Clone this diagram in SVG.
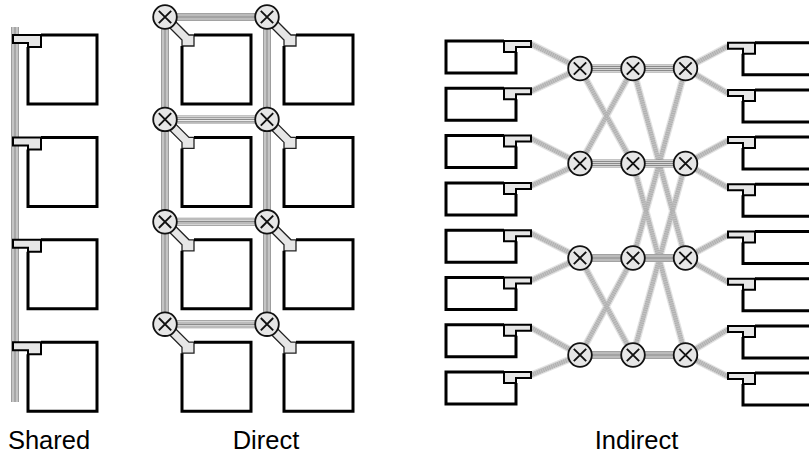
<svg xmlns="http://www.w3.org/2000/svg" xmlns:xlink="http://www.w3.org/1999/xlink" width="809" height="456" viewBox="0 0 809 456">
<style>
.bx{fill:none;stroke:#000;stroke-width:3;stroke-linejoin:miter}
.tab{fill:#e6e6e6;stroke:#000;stroke-width:2;stroke-linejoin:miter}
.band{fill:#e6e6e6;stroke:#222;stroke-width:1.3}
.swc{fill:#e6e6e6;stroke:#111;stroke-width:1.8}
.swx{stroke:#111;stroke-width:1.9;fill:none}
.b1{fill:none;stroke:#8a8a8a;stroke-width:8}
.b2{fill:none;stroke:#ececec;stroke-width:6.4}
.b3{fill:none;stroke:#8a8a8a;stroke-width:4.8}
.b4{fill:none;stroke:#ececec;stroke-width:3.2}
.b5{fill:none;stroke:#8a8a8a;stroke-width:1.4}
.l1{fill:none;stroke:#e2e2e2;stroke-width:7}
.l2{fill:none;stroke:#c4c4c4;stroke-width:4.5}
.l3{fill:none;stroke:#9a9a9a;stroke-width:4.5;stroke-dasharray:1 1.2;opacity:.5}
.lbl{font-family:"Liberation Sans",Arial,sans-serif;font-size:25.5px;fill:#000;text-anchor:middle}
</style>
<defs>
<g id="sw"><circle r="11.8" class="swc"/><path class="swx" d="M-6.2,-6.2 L6.2,6.2 M-6.2,6.2 L6.2,-6.2"/></g>
<g id="sbox"><polygon class="tab" points="-15,0 13,0 13,12 0,12 0,8 -15,8"/><path class="bx" d="M13,0 H69 V69 H0 V12"/></g>
<g id="dbox"><polygon class="band" points="-14,-21 7,0 12,0 12,11 0,11 0,5 -20,-15"/><path class="bx" d="M12,0 H69 V69 H0 V11"/></g>
<g id="lbox"><polygon class="tab" points="58,0 85,0 85,6 70,6 70,11 58,11"/><path class="bx" d="M58,0 H0 V32 H70 V11"/></g>
<path id="sbus" d="M15,27 V402"/>
<path id="dbus" d="M165,17 V324.2 M267,17 V324.2 M165,17 H267 M165,119.4 H267 M165,221.8 H267 M165,324.2 H267"/>
<path id="ibus" d="M580,68.5 H685.5 M580,163.5 H685.5 M580,258 H685.5 M580,355 H685.5"/>
<path id="ilink" d="M531,44 L580,68.5 M531,91.3 L580,68.5 M531,138.6 L580,163.5 M531,185.9 L580,163.5 M531,233.2 L580,258 M531,280.5 L580,258 M531,327.8 L580,355 M531,375.1 L580,355 M685.5,68.5 L728,46.2 M685.5,68.5 L728,93.4 M685.5,163.5 L728,140.6 M685.5,163.5 L728,187.8 M685.5,258 L728,235 M685.5,258 L728,282.2 M685.5,355 L728,329.4 M685.5,355 L728,376.6 M580,68.5 L633,163.5 M580,163.5 L633,68.5 M580,258 L633,355 M580,355 L633,258 M633,68.5 L685.5,258 M685.5,68.5 L633,258 M633,163.5 L685.5,355 M685.5,163.5 L633,355"/>
</defs>
<rect width="809" height="456" fill="#fff"/>
<g id="connectors">
<use xlink:href="#sbus" class="b1"/><use xlink:href="#sbus" class="b2"/><use xlink:href="#sbus" class="b3"/><use xlink:href="#sbus" class="b4"/><use xlink:href="#sbus" class="b5"/>
<use xlink:href="#dbus" class="b1"/><use xlink:href="#dbus" class="b2"/><use xlink:href="#dbus" class="b3"/><use xlink:href="#dbus" class="b4"/><use xlink:href="#dbus" class="b5"/>
<use xlink:href="#ilink" class="l1"/><use xlink:href="#ilink" class="l2"/><use xlink:href="#ilink" class="l3"/>
<use xlink:href="#ibus" class="b1"/><use xlink:href="#ibus" class="b2"/><use xlink:href="#ibus" class="b3"/><use xlink:href="#ibus" class="b4"/><use xlink:href="#ibus" class="b5"/>
</g>
<g id="shared-1"><use xlink:href="#sbox" x="28" y="35"/></g>
<g id="shared-2"><use xlink:href="#sbox" x="28" y="137.4"/></g>
<g id="shared-3"><use xlink:href="#sbox" x="28" y="239.8"/></g>
<g id="shared-4"><use xlink:href="#sbox" x="28" y="342.2"/></g>
<g id="direct-1-1"><use xlink:href="#dbox" x="182" y="35"/><use xlink:href="#sw" x="165" y="17"/></g>
<g id="direct-1-2"><use xlink:href="#dbox" x="284" y="35"/><use xlink:href="#sw" x="267" y="17"/></g>
<g id="direct-2-1"><use xlink:href="#dbox" x="182" y="137.4"/><use xlink:href="#sw" x="165" y="119.4"/></g>
<g id="direct-2-2"><use xlink:href="#dbox" x="284" y="137.4"/><use xlink:href="#sw" x="267" y="119.4"/></g>
<g id="direct-3-1"><use xlink:href="#dbox" x="182" y="239.8"/><use xlink:href="#sw" x="165" y="221.8"/></g>
<g id="direct-3-2"><use xlink:href="#dbox" x="284" y="239.8"/><use xlink:href="#sw" x="267" y="221.8"/></g>
<g id="direct-4-1"><use xlink:href="#dbox" x="182" y="342.2"/><use xlink:href="#sw" x="165" y="324.2"/></g>
<g id="direct-4-2"><use xlink:href="#dbox" x="284" y="342.2"/><use xlink:href="#sw" x="267" y="324.2"/></g>
<g id="in-left-1"><use xlink:href="#lbox" x="446" y="41"/></g>
<g id="in-left-2"><use xlink:href="#lbox" x="446" y="88.3"/></g>
<g id="in-left-3"><use xlink:href="#lbox" x="446" y="135.6"/></g>
<g id="in-left-4"><use xlink:href="#lbox" x="446" y="182.9"/></g>
<g id="in-left-5"><use xlink:href="#lbox" x="446" y="230.2"/></g>
<g id="in-left-6"><use xlink:href="#lbox" x="446" y="277.5"/></g>
<g id="in-left-7"><use xlink:href="#lbox" x="446" y="324.8"/></g>
<g id="in-left-8"><use xlink:href="#lbox" x="446" y="372.1"/></g>
<g id="in-right-1"><use xlink:href="#lbox" transform="translate(813,42.7) scale(-1,1)"/></g>
<g id="in-right-2"><use xlink:href="#lbox" transform="translate(813,89.9) scale(-1,1)"/></g>
<g id="in-right-3"><use xlink:href="#lbox" transform="translate(813,137.1) scale(-1,1)"/></g>
<g id="in-right-4"><use xlink:href="#lbox" transform="translate(813,184.3) scale(-1,1)"/></g>
<g id="in-right-5"><use xlink:href="#lbox" transform="translate(813,231.5) scale(-1,1)"/></g>
<g id="in-right-6"><use xlink:href="#lbox" transform="translate(813,278.7) scale(-1,1)"/></g>
<g id="in-right-7"><use xlink:href="#lbox" transform="translate(813,325.9) scale(-1,1)"/></g>
<g id="in-right-8"><use xlink:href="#lbox" transform="translate(813,373.1) scale(-1,1)"/></g>
<g id="sw-1-1"><use xlink:href="#sw" x="580" y="68.5"/></g>
<g id="sw-1-2"><use xlink:href="#sw" x="633" y="68.5"/></g>
<g id="sw-1-3"><use xlink:href="#sw" x="685.5" y="68.5"/></g>
<g id="sw-2-1"><use xlink:href="#sw" x="580" y="163.5"/></g>
<g id="sw-2-2"><use xlink:href="#sw" x="633" y="163.5"/></g>
<g id="sw-2-3"><use xlink:href="#sw" x="685.5" y="163.5"/></g>
<g id="sw-3-1"><use xlink:href="#sw" x="580" y="258"/></g>
<g id="sw-3-2"><use xlink:href="#sw" x="633" y="258"/></g>
<g id="sw-3-3"><use xlink:href="#sw" x="685.5" y="258"/></g>
<g id="sw-4-1"><use xlink:href="#sw" x="580" y="355"/></g>
<g id="sw-4-2"><use xlink:href="#sw" x="633" y="355"/></g>
<g id="sw-4-3"><use xlink:href="#sw" x="685.5" y="355"/></g>
<g id="labels">
<text class="lbl" x="49" y="449">Shared</text>
<text class="lbl" x="266" y="449">Direct</text>
<text class="lbl" x="636.5" y="449">Indirect</text>
</g>
</svg>
